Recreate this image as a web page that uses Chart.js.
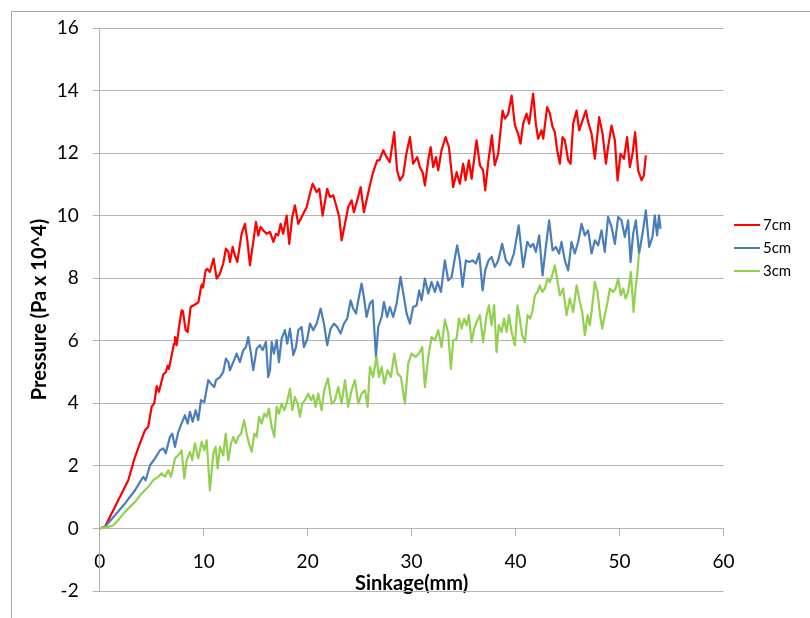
<!DOCTYPE html>
<html>
<head>
<meta charset="utf-8">
<script src="https://cdn.jsdelivr.net/npm/chart.js@4.4.0/dist/chart.umd.min.js"></script>
<style>
  html, body { margin: 0; padding: 0; background: #fff; overflow: hidden; }
  #frame { position: absolute; left: 11px; top: 11px; width: 799px; height: 607px;
           border-left: 1px solid #a6a6a6; border-top: 1px solid #a6a6a6; }
  #wrap { position: absolute; left: 0; top: 0; width: 810px; height: 618px; }
</style>
</head>
<body>
<div id="frame"></div>
<div id="wrap"><canvas id="chart"></canvas></div>
<script>
// Sinkage (mm) / pressure (Pa x 10^4)

const seriesNames = ["7cm", "5cm", "3cm"];
const seriesColors = ["#ff0000", "#4a7ebb", "#92d050"];

const sink7 = [0, 0.5, 1.47, 2.75, 3.4, 3.88, 4.36, 4.67, 5.0, 5.25, 5.48, 5.7, 6.12, 6.37, 6.53, 6.65,
  7.15, 7.24, 7.4, 7.63, 7.88, 8.0, 8.27, 8.46, 8.75, 9.0, 9.33, 9.5, 9.74, 9.84, 9.93, 10.19, 10.35,
  10.6, 10.95, 11.25, 11.57, 11.88, 12.14, 12.37, 12.53, 12.79, 13.0, 13.23, 13.65, 13.97, 14.2, 14.45,
  14.77, 15.03, 15.25, 15.48, 15.73, 16.06, 16.38, 16.7, 16.95, 17.17, 17.4, 17.65, 17.98, 18.23, 18.52,
  18.78, 19.1, 19.42, 19.9, 20.22, 20.48, 20.87, 21.12, 21.44, 21.88, 22.14, 22.47, 22.79, 23.04, 23.27,
  23.59, 23.9, 24.23, 24.45, 24.77, 25.1, 25.41, 25.67, 25.99, 26.3, 26.69, 26.9, 27.27, 27.6, 27.9,
  28.33, 28.6, 28.88, 29.19, 29.52, 29.84, 30.15, 30.54, 30.8, 31.06, 31.28, 31.6, 31.83, 32.08, 32.34,
  32.56, 32.88, 33.27, 33.59, 34.0, 34.33, 34.64, 34.96, 35.19, 35.51, 35.77, 36.25, 36.57, 36.88, 37.08,
  37.37, 37.72, 38.0, 38.33, 38.75, 38.97, 39.29, 39.62, 39.93, 40.25, 40.48, 40.73, 41.06, 41.31, 41.69,
  41.95, 42.17, 42.5, 42.66, 43.04, 43.3, 43.56, 43.78, 44.0, 44.26, 44.52, 44.74, 45.06, 45.29, 45.54,
  45.87, 46.12, 46.44, 46.76, 46.98, 47.31, 47.63, 48.04, 48.37, 48.69, 48.9, 49.23, 49.55, 49.81, 50.1,
  50.42, 50.73, 50.99, 51.25, 51.5, 51.79, 52.12, 52.34, 52.53];
const press7 = [0, 0.05, 0.69, 1.54, 2.29, 2.73, 3.14, 3.25, 3.9, 4.0, 4.55, 4.37, 4.93, 5.0, 5.2, 5.1,
  5.91, 6.12, 5.86, 6.44, 6.97, 6.95, 6.34, 6.28, 7.08, 7.13, 7.19, 7.24, 7.72, 7.8, 7.7, 8.25, 8.3,
  8.2, 8.63, 7.99, 8.15, 8.47, 8.95, 8.84, 8.52, 9.0, 8.73, 8.52, 9.42, 9.74, 9.21, 8.41,
  9.16, 9.8, 9.37, 9.64, 9.53, 9.42, 9.48, 9.16, 9.42, 9.37, 9.74, 9.42, 10.0, 9.1, 9.96,
  10.33, 9.74, 9.96, 10.27, 10.7, 11.02, 10.75, 10.86, 10.0, 10.86, 10.6, 10.65, 10.27, 9.96, 9.21,
  9.74, 10.27, 10.49, 10.11, 10.49, 10.91, 10.11, 10.49, 10.97, 11.39, 11.77, 11.77, 12.09, 11.87, 11.71,
  12.67, 11.45, 11.13, 11.29, 12.03, 12.51, 11.66, 11.87, 11.55, 11.39, 10.97, 11.77, 12.19, 11.55, 11.87,
  11.45, 12.09, 12.51, 12.19, 10.91, 11.39, 11.02, 11.66, 11.13, 11.77, 11.18, 12.41, 11.61, 11.45, 10.81,
  11.71, 12.57, 11.61, 11.98, 13.36, 13.1, 13.25, 13.84, 12.9, 12.6, 12.3, 12.94, 13.26, 12.94, 13.9,
  12.94, 12.46, 12.73, 12.46, 13.47, 13.26, 12.83, 12.67, 12.09, 11.66, 12.51, 12.41, 11.77, 11.66, 12.94,
  13.36, 12.73, 13.04, 13.36, 12.99, 12.62, 11.82, 13.15, 12.62, 11.66, 12.19, 12.88, 12.41, 11.13, 11.98,
  11.82, 12.51, 11.55, 11.98, 12.67, 11.45, 11.13, 11.29, 11.93];

const sink5 = [0, 0.51, 1.47, 2.43, 3.4, 3.88, 4.19, 4.42, 4.84, 5.32, 5.8, 6.12, 6.35, 6.76, 6.98, 7.24,
  7.56, 7.94, 8.2, 8.46, 8.68, 8.94, 9.23, 9.48, 9.74, 10.06, 10.44, 10.77, 11.02, 11.18, 11.57, 11.88,
  12.14, 12.37, 12.53, 12.85, 13.17, 13.49, 13.81, 14.07, 14.29, 14.55, 14.77, 15.1, 15.41, 15.67, 15.99,
  16.21, 16.38, 16.54, 16.76, 17.02, 17.24, 17.5, 17.82, 18.04, 18.3, 18.62, 18.88, 19.1, 19.42, 19.64,
  19.96, 20.22, 20.54, 20.87, 21.25, 21.57, 21.88, 22.21, 22.53, 22.85, 23.17, 23.49, 23.81, 24.13, 24.38,
  24.65, 24.87, 25.19, 25.41, 25.67, 25.99, 26.25, 26.57, 26.79, 27.12, 27.34, 27.65, 27.91, 28.23, 28.56,
  28.94, 29.26, 29.52, 29.84, 30.15, 30.48, 30.73, 30.96, 31.28, 31.6, 31.92, 32.24, 32.5, 32.82, 33.2,
  33.52, 33.85, 34.07, 34.38, 34.64, 34.9, 35.22, 35.54, 35.87, 36.19, 36.5, 36.83, 37.08, 37.4, 37.69,
  38.0, 38.33, 38.71, 39.07, 39.45, 39.84, 40.3, 40.73, 41.12, 41.44, 41.69, 41.95, 42.27, 42.6, 42.91,
  43.23, 43.56, 43.88, 44.19, 44.42, 44.74, 45.06, 45.38, 45.7, 46.02, 46.35, 46.66, 46.98, 47.31, 47.63,
  47.94, 48.27, 48.58, 48.9, 49.23, 49.55, 49.87, 50.19, 50.51, 50.83, 51.06, 51.31, 51.57, 51.88, 52.21,
  52.53, 52.85, 53.17, 53.39, 53.61, 53.8, 53.94];
const press5 = [0, 0.05, 0.42, 0.8, 1.22, 1.49, 1.65, 1.54, 2.02, 2.24, 2.5, 2.56, 2.4, 2.93, 3.03, 2.61,
  3.09, 3.41, 3.62, 3.35, 3.73, 3.41, 3.78, 3.46, 4.1, 4.04, 4.74, 4.6, 4.52, 4.74, 4.84, 5.0,
  5.43, 5.32, 5.06, 5.32, 5.59, 5.32, 5.7, 5.8, 6.12, 5.59, 5.06, 5.75, 5.86, 5.7, 5.96,
  4.84, 5.06, 5.96, 5.59, 6.02, 5.32, 6.07, 6.34, 5.91, 6.39, 5.54, 5.8, 6.34, 6.44, 5.8,
  6.05, 6.55, 6.34, 6.55, 7.03, 6.55, 5.86, 6.39, 6.55, 6.44, 6.23, 6.55, 6.71, 7.29, 7.03,
  6.87, 7.29, 7.83, 7.4, 6.76, 7.19, 7.29, 5.48, 6.44, 6.76, 7.24, 6.76, 7.08, 6.76, 7.19,
  8.04, 7.4, 6.87, 6.55, 7.08, 7.13, 7.61, 7.29, 7.99, 7.51, 7.88, 7.56, 7.88, 7.56, 8.57,
  7.93, 8.04, 8.47, 9.05, 8.57, 7.72, 8.57, 8.52, 8.57, 8.47, 8.79, 7.61, 8.25, 8.57, 8.68,
  8.36, 8.57, 9.1, 8.57, 8.41, 8.79, 9.69, 8.36, 9.16, 9.0, 9.1, 8.84, 9.37, 8.09, 9.0,
  9.85, 8.89, 9.0, 8.79, 9.16, 8.57, 8.25, 9.16, 8.79, 9.16, 9.74, 9.37, 9.53, 8.79, 9.21,
  9.05, 9.53, 8.84, 9.96, 9.64, 9.1, 9.96, 9.85, 9.32, 9.85, 8.52, 9.42, 9.85, 8.79, 9.42,
  10.17, 9.0, 9.32, 10.01, 9.37, 10.01, 9.58];

const sink3 = [0, 0.83, 1.31, 1.79, 2.43, 2.91, 3.4, 4.04, 4.67, 5.15, 5.63, 5.96, 6.28, 6.6, 6.86, 7.24,
  7.56, 7.88, 8.14, 8.37, 8.68, 8.9, 9.16, 9.48, 9.81, 10.06, 10.29, 10.6, 10.93, 11.15, 11.35, 11.57,
  11.88, 12.12, 12.37, 12.63, 12.85, 13.08, 13.33, 13.59, 13.9, 14.13, 14.36, 14.62, 14.87, 15.1, 15.32,
  15.58, 15.83, 16.06, 16.28, 16.54, 16.79, 17.02, 17.24, 17.5, 17.75, 17.98, 18.3, 18.52, 18.78, 19.04,
  19.26, 19.48, 19.74, 20.06, 20.32, 20.54, 20.77, 21.02, 21.35, 21.6, 21.95, 22.31, 22.63, 22.94, 23.27,
  23.59, 23.9, 24.23, 24.55, 24.87, 25.19, 25.51, 25.77, 25.99, 26.3, 26.63, 26.86, 27.12, 27.37, 27.69,
  28.01, 28.33, 28.65, 28.97, 29.36, 29.67, 30.0, 30.38, 30.7, 31.02, 31.28, 31.6, 31.92, 32.24, 32.56,
  32.88, 33.2, 33.52, 33.78, 34.0, 34.33, 34.55, 34.81, 35.06, 35.29, 35.51, 35.77, 36.02, 36.25, 36.57,
  36.88, 37.21, 37.43, 37.69, 37.94, 38.17, 38.39, 38.65, 38.9, 39.13, 39.36, 39.62, 39.93, 40.19, 40.41,
  40.63, 40.9, 41.15, 41.4, 41.6, 41.86, 42.12, 42.34, 42.56, 42.82, 43.08, 43.3, 43.52, 43.78, 44.1,
  44.26, 44.58, 44.9, 45.22, 45.54, 45.87, 46.19, 46.41, 46.67, 46.93, 47.15, 47.38, 47.63, 47.88, 48.1,
  48.33, 48.58, 48.85, 49.07, 49.38, 49.62, 49.87, 50.12, 50.35, 50.58, 50.83, 51.09, 51.35, 51.54, 51.73,
  51.86];
const press3 = [0, 0.05, 0.1, 0.27, 0.53, 0.69, 0.85, 1.12, 1.33, 1.54, 1.65, 1.76, 1.65, 1.86, 1.65, 2.24,
  2.34, 2.5, 1.6, 2.18, 2.45, 2.18, 2.72, 2.24, 2.77, 2.5, 2.82, 1.22, 2.4, 2.61, 1.92, 2.61,
  2.34, 3.03, 2.18, 2.72, 2.93, 2.72, 2.93, 3.03, 3.46, 3.03, 2.72, 2.45, 3.03, 2.93, 3.57,
  3.35, 3.67, 3.57, 3.83, 3.25, 2.93, 3.89, 3.67, 3.99, 3.78, 3.99, 4.47, 3.78, 4.2, 3.99,
  3.57, 3.99, 4.1, 4.31, 4.1, 4.26, 3.89, 4.31, 3.78, 4.42, 4.8, 3.99, 4.1, 4.52, 3.99,
  4.74, 3.89, 4.42, 4.74, 3.99, 4.31, 4.42, 3.89, 5.16, 4.84, 5.48, 4.84, 5.16, 4.63, 5.06,
  4.84, 5.59, 4.95, 4.84, 3.99, 5.27, 5.59, 5.48, 5.59, 5.8, 4.52, 5.48, 6.12, 6.02, 6.34,
  5.8, 6.68, 6.25, 5.1, 6.0, 6.07, 6.71, 6.39, 6.71, 6.5, 6.82, 5.96, 6.39, 6.6, 6.82,
  5.96, 6.82, 7.13, 6.5, 7.13, 5.64, 6.5, 6.28, 6.71, 6.28, 6.82, 6.28, 5.86, 7.13, 6.71,
  6.18, 5.96, 6.82, 6.71, 6.92, 7.45, 7.56, 7.77, 7.56, 7.67, 7.99, 7.88, 8.09, 8.41, 7.77,
  7.45, 7.67, 6.82, 7.35, 6.92, 7.77, 7.24, 6.92, 6.18, 6.82, 6.5, 7.13, 7.88, 7.56, 6.92,
  6.39, 6.82, 7.24, 7.67, 7.56, 7.67, 7.99, 7.45, 7.67, 7.35, 7.56, 8.2, 6.92, 7.67, 8.2,
  8.79];

const xMin = 0, xMax = 60, xStep = 10;
const yMin = -2, yMax = 16, yStep = 2;

const sinkSets = [sink7, sink5, sink3];
const pressSets = [press7, press5, press3];

const axisGray = "#b3b3b3";
const tickFont = { family: "Lato", size: 19 };
const titleFont = { family: "Lato", size: 20, weight: "bold" };

// legend drawn to the right of the plot, like the Excel one
const sideLegend = {
    id: "sideLegend",
    afterDraw(chart) {
        const ctx = chart.ctx;
        ctx.save();
        ctx.font = "15px Lato";
        ctx.textBaseline = "middle";
        ctx.fillStyle = "#000";
        chart.data.datasets.forEach((ds, i) => {
            const y = 225 + i * 23;
            ctx.strokeStyle = ds.borderColor;
            ctx.lineWidth = 2;
            ctx.beginPath();
            ctx.moveTo(734, y);
            ctx.lineTo(760, y);
            ctx.stroke();
            ctx.fillText(ds.label, 763, y);
        });
        ctx.restore();
    }
};

new Chart(document.getElementById("chart"), {
    type: "line",
    data: {
        datasets: seriesNames.map((name, i) => ({
            label: name,
            data: sinkSets[i].map((x, j) => ({ x, y: pressSets[i][j] })),
            borderColor: seriesColors[i],
            borderWidth: 2.2,
            borderJoinStyle: "round",
            pointRadius: 0,
            tension: 0,
            order: 3 - i
        }))
    },
    options: {
        responsive: true,
        maintainAspectRatio: false,
        animation: false,
        layout: { padding: { left: 12, top: 28, right: 86.5, bottom: 27 } },
        plugins: {
            legend: { display: false },
            tooltip: { enabled: false }
        },
        scales: {
            x: {
                type: "linear",
                min: xMin,
                max: xMax,
                position: { y: 0 },
                ticks: { stepSize: xStep, color: "#000", font: tickFont, padding: 15, maxRotation: 0 },
                grid: { drawOnChartArea: false, drawTicks: true, tickLength: 7, color: axisGray },
                border: { color: axisGray },
                title: {
                    display: true, text: "Sinkage(mm)", color: "#000", font: titleFont,
                    padding: { top: -17, bottom: 0 }
                }
            },
            y: {
                min: yMin,
                max: yMax,
                ticks: { stepSize: yStep, color: "#000", font: tickFont, padding: 14 },
                grid: { color: axisGray, tickLength: 7 },
                border: { color: axisGray },
                title: {
                    display: true, text: "Pressure (Pa x 10^4)", color: "#000",
                    font: titleFont, padding: { top: 16, bottom: 0 }
                },
                afterFit(scale) { scale.width = 87.7; }
            }
        }
    },
    plugins: [sideLegend]
});
</script>
</body>
</html>
